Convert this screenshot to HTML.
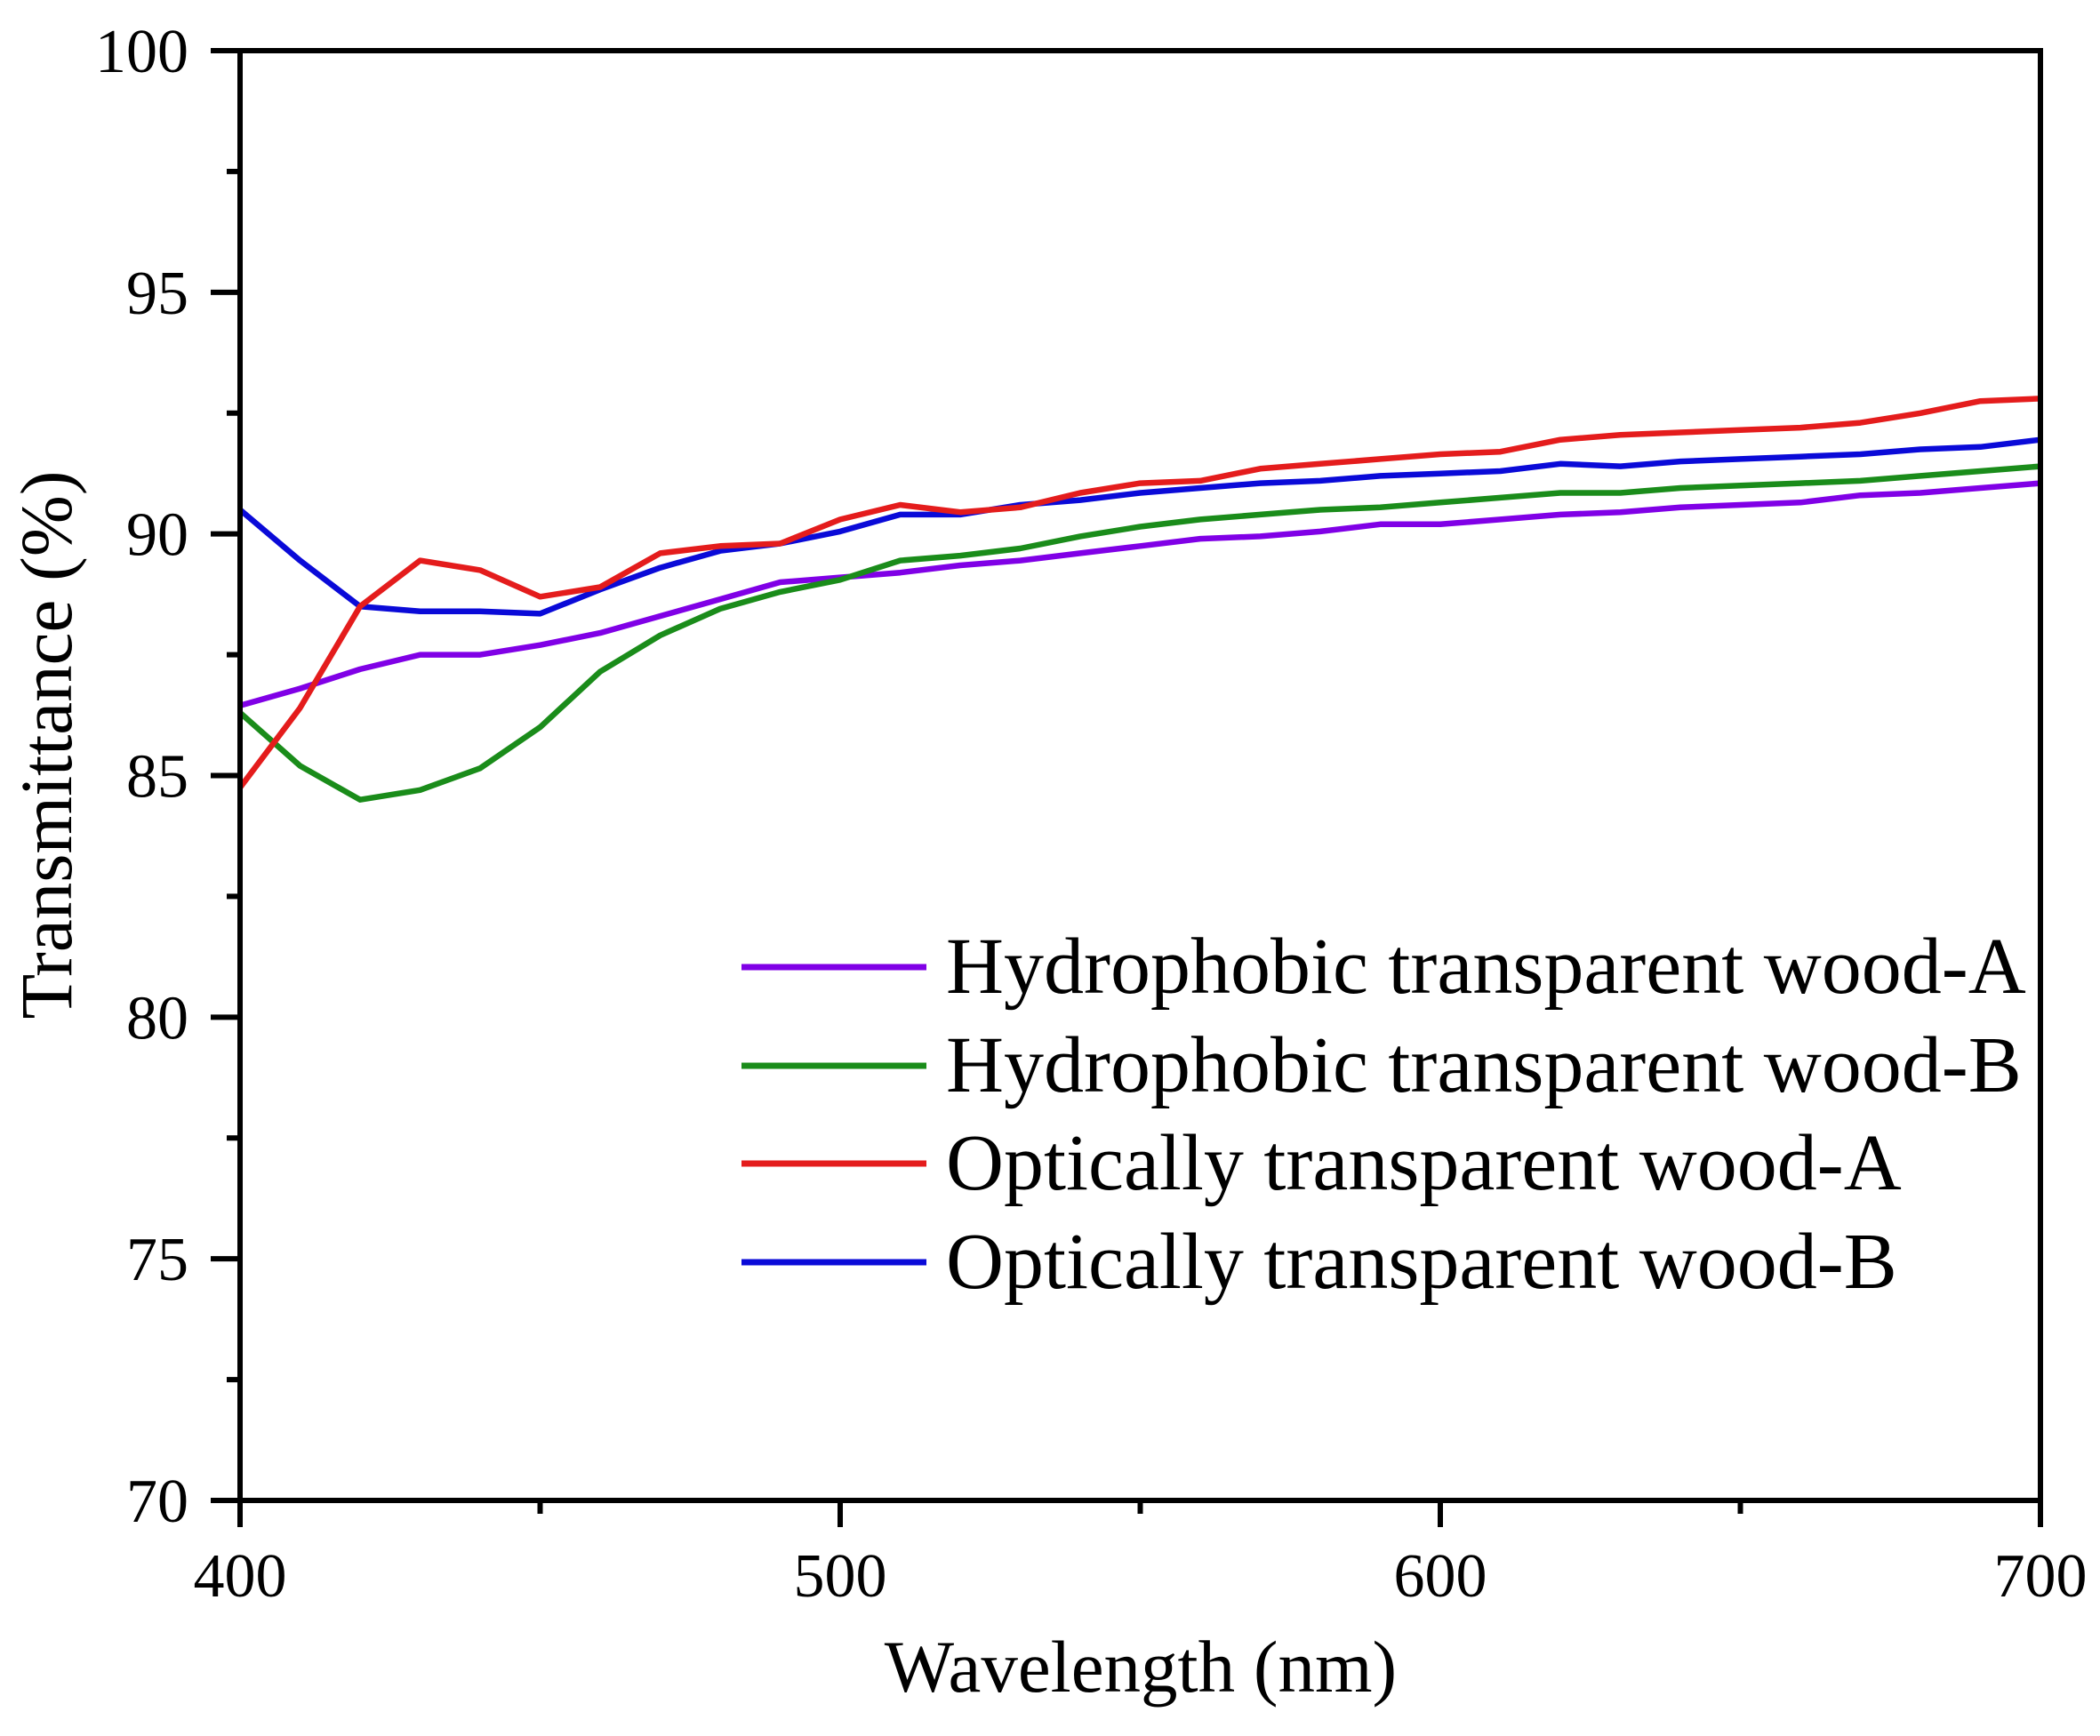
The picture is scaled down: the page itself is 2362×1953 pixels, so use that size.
<!DOCTYPE html>
<html><head><meta charset="utf-8"><style>
html,body{margin:0;padding:0;background:#fff;}
svg{display:block;}
text{font-family:"Liberation Serif",serif;fill:#000;}
</style></head><body>
<svg id="s" width="2362" height="1953" viewBox="0 0 2362 1953" xmlns="http://www.w3.org/2000/svg">
<rect width="2362" height="1953" fill="#fff"/>
<g id="series" fill="none" stroke-width="6.5" stroke-linejoin="round"></g>
<g id="axes" stroke="#000" stroke-width="6" fill="none">
<rect x="270" y="57" width="2025" height="1631"/>
</g>
<g id="ticks" stroke="#000" stroke-width="6"></g>
<g font-size="70" text-anchor="end" id="ylab"></g>
<g font-size="70" text-anchor="middle" id="xlab"></g>
<text x="1283" y="1903" font-size="83" text-anchor="middle">Wavelength (nm)</text>
<text transform="translate(80,838) rotate(-90)" font-size="83" text-anchor="middle">Transmittance (%)</text>
<g font-size="90">
<line x1="834" y1="1088" x2="1042" y2="1088" stroke="#8000e6" stroke-width="7"/>
<text x="1064" y="1117">Hydrophobic transparent wood-A</text>
<line x1="834" y1="1199" x2="1042" y2="1199" stroke="#1a8c1a" stroke-width="7"/>
<text x="1064" y="1228">Hydrophobic transparent wood-B</text>
<line x1="834" y1="1309" x2="1042" y2="1309" stroke="#e41c1c" stroke-width="7"/>
<text x="1064" y="1338">Optically transparent wood-A</text>
<line x1="834" y1="1420" x2="1042" y2="1420" stroke="#0a0ad8" stroke-width="7"/>
<text x="1064" y="1449">Optically transparent wood-B</text>
</g>
</svg>
<script>
var NS="http://www.w3.org/2000/svg";
function X(v){return 270+(v-400)*(2025/300);}
function Y(v){return 1688-(v-70)*(1631/30);}
function el(t,a,p,txt){var e=document.createElementNS(NS,t);for(var k in a)e.setAttribute(k,a[k]);if(txt!==undefined)e.textContent=txt;document.getElementById(p).appendChild(e);}
var S={
"#8000e6":[86.45,86.8,87.2,87.5,87.5,87.7,87.95,88.3,88.65,89.0,89.1,89.2,89.35,89.45,89.6,89.75,89.9,89.95,90.05,90.2,90.2,90.3,90.4,90.45,90.55,90.6,90.65,90.8,90.85,90.95,91.05],
"#1a8c1a":[86.3,85.2,84.5,84.7,85.15,86.0,87.15,87.9,88.45,88.8,89.05,89.45,89.55,89.7,89.95,90.15,90.3,90.4,90.5,90.55,90.65,90.75,90.85,90.85,90.95,91.0,91.05,91.1,91.2,91.3,91.4],
"#0a0ad8":[90.5,89.45,88.5,88.4,88.4,88.35,88.85,89.3,89.65,89.8,90.05,90.4,90.4,90.6,90.7,90.85,90.95,91.05,91.1,91.2,91.25,91.3,91.45,91.4,91.5,91.55,91.6,91.65,91.75,91.8,91.95],
"#e41c1c":[84.75,86.4,88.5,89.45,89.25,88.7,88.9,89.6,89.75,89.8,90.3,90.6,90.45,90.55,90.85,91.05,91.1,91.35,91.45,91.55,91.65,91.7,91.95,92.05,92.1,92.15,92.2,92.3,92.5,92.75,92.8]};
for(var c in S){var p=S[c].map(function(v,i){return X(400+10*i).toFixed(1)+","+Y(v).toFixed(1);}).join(" ");el("polyline",{points:p,stroke:c},"series");}
for(var v=70;v<=100;v+=2.5){var y=Y(v),maj=(v%5==0);el("line",{x1:maj?237:255,y1:y,x2:270,y2:y},"ticks");if(maj)el("text",{x:212,y:y+24},"ylab",String(v));}
for(var w=400;w<=700;w+=50){var x=X(w),maj=(w%100==0);el("line",{x1:x,y1:1688,x2:x,y2:maj?1718:1703},"ticks");if(maj)el("text",{x:x,y:1796},"xlab",String(w));}
</script>
</body></html>
